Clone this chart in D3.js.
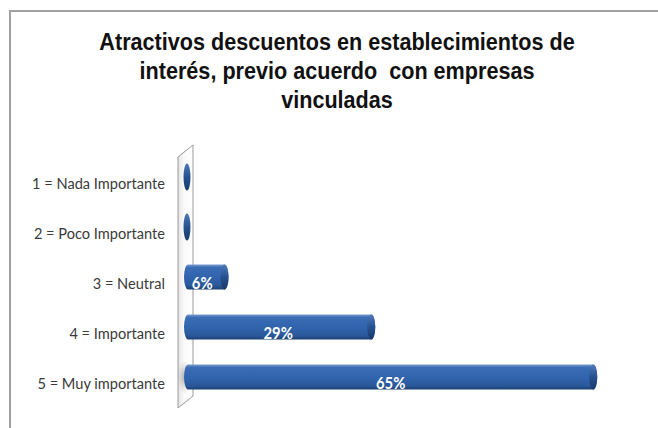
<!DOCTYPE html>
<html><head><meta charset="utf-8">
<script src="https://cdn.jsdelivr.net/npm/d3@7"></script>
<style>body{margin:0;background:#fff}svg{display:block}</style>
</head><body>
<script>
const titleLines = ["Atractivos descuentos en establecimientos de", "interés, previo acuerdo  con empresas", "vinculadas"];
const categories = ["1 = Nada Importante", "2 = Poco Importante", "3 = Neutral", "4 = Importante", "5 = Muy importante"];
const values = [0, 0, 6, 29, 65];
const valueLabels = ["", "", "6%", "29%", "65%"];

const W = 658, H = 428;
const svg = d3.select("body").append("svg").attr("width", W).attr("height", H);
const defs = svg.append("defs");

const g = defs.append("linearGradient").attr("id", "barGrad").attr("x1", 0).attr("y1", 0).attr("x2", 0).attr("y2", 1);
[["0%", "#7a9bd0"], ["12%", "#3b6db5"], ["55%", "#2f63ac"], ["85%", "#2a5899"], ["100%", "#1b3f73"]]
  .forEach(([o, c]) => g.append("stop").attr("offset", o).attr("stop-color", c));
const gc = defs.append("linearGradient").attr("id", "capGrad").attr("x1", 0).attr("y1", 0).attr("x2", 0).attr("y2", 1);
[["0%", "#4f79b8"], ["50%", "#26508f"], ["100%", "#173a6b"]]
  .forEach(([o, c]) => gc.append("stop").attr("offset", o).attr("stop-color", c));
const gw = defs.append("linearGradient").attr("id", "wallGrad").attr("x1", 0).attr("y1", 0).attr("x2", 1).attr("y2", 0);
[["0%", "#e4e4e4"], ["40%", "#fafafa"], ["100%", "#ffffff"]]
  .forEach(([o, c]) => gw.append("stop").attr("offset", o).attr("stop-color", c));
const sh = defs.append("radialGradient").attr("id", "shadowGrad");
[["0%", "rgba(120,120,120,0.55)"], ["100%", "rgba(160,160,160,0)"]]
  .forEach(([o, c]) => sh.append("stop").attr("offset", o).attr("stop-color", c));

// frame
svg.append("path").attr("d", `M10,${H + 2} L10,11 L${W + 2},11`)
  .attr("fill", "none").attr("stroke", "#a0a0a0").attr("stroke-width", 2);

// title (condensed via horizontal scale)
const cx = 337, sx = 0.9;
svg.append("g").attr("transform", `translate(${cx},0) scale(${sx},1)`)
  .selectAll("text").data(titleLines).join("text")
  .attr("x", 0).attr("y", (d, i) => 50 + i * 29)
  .attr("text-anchor", "middle")
  .attr("font-family", "'Liberation Sans', Arial, sans-serif")
  .attr("font-weight", "bold").attr("font-size", 24).attr("fill", "#111")
  .style("white-space", "pre")
  .text(d => d);

// scales
const y = d3.scaleBand().domain(categories).range([152, 402]).paddingInner(0.5).paddingOuter(0.25);
const x = d3.scaleLinear().domain([0, 100]).range([191, 816]);
const x0 = 184;
const bh = y.bandwidth();

// wall
svg.append("polygon").attr("points", "178,157 193,145 193,396 178,408")
  .attr("fill", "url(#wallGrad)").attr("stroke", "#9a9a9a").attr("stroke-width", 1);

// shadow for last bar
svg.append("ellipse").attr("cx", 184).attr("cy", y(categories[4]) + bh / 2)
  .attr("rx", 7).attr("ry", 17).attr("fill", "url(#shadowGrad)");

// category labels
svg.append("g").selectAll("text").data(categories).join("text")
  .attr("x", 165).attr("y", d => y(d) + bh / 2 + 7)
  .attr("dy", "0.35em").attr("text-anchor", "end")
  .attr("font-family", "Lato, 'Open Sans', sans-serif").attr("font-size", 14.6).attr("fill", "#3a3a3a")
  .text(d => d);

// bars
const bars = svg.append("g").selectAll("g").data(values).join("g")
  .attr("transform", (d, i) => `translate(0,${y(categories[i])})`);
bars.each(function (v, i) {
  const s = d3.select(this);
  const r = 4;
  if (v === 0) {
    s.append("ellipse").attr("cx", x0 + 3).attr("cy", bh / 2).attr("rx", 3.5).attr("ry", bh / 2 + 1)
      .attr("fill", "url(#capGrad)");
    return;
  }
  const xe = x(v) + (v > 20 && v < 40 ? 3 : 0);
  s.append("path")
    .attr("d", `M${x0 + r},0 L${xe - r},0 A${r},${bh / 2} 0 0 1 ${xe - r},${bh} L${x0 + r},${bh} A${r},${bh / 2} 0 0 1 ${x0 + r},0 Z`)
    .attr("fill", "url(#barGrad)");
  s.append("ellipse").attr("cx", xe - r).attr("cy", bh / 2).attr("rx", r).attr("ry", bh / 2)
    .attr("fill", "url(#capGrad)");
});

// value labels
svg.append("g").selectAll("text").data(values).join("text")
  .attr("transform", (d, i) => `translate(${(x0 + x(d)) / 2 - (d < 10 ? 4 : 0)},${y(categories[i]) + bh / 2 + 6}) scale(0.9,1)`)
  .attr("dy", "0.35em").attr("text-anchor", "middle")
  .attr("font-family", "Lato, 'Open Sans', sans-serif").attr("font-weight", "bold")
  .attr("font-size", 16.5).attr("fill", "#fff")
  .text((d, i) => valueLabels[i]);
</script>
</body></html>
